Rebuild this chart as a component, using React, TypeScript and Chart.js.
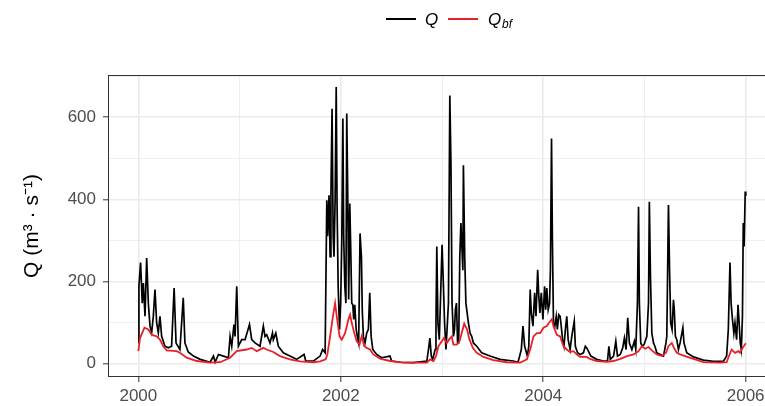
import React, { useEffect, useRef } from 'react';
import { Chart, registerables } from 'chart.js';

Chart.register(...registerables);

// ---- data (days since 2000-01-01) ----
const START_YEAR = 2000;

const qDays = [
  0, 2, 8, 14, 18, 24, 30, 36, 42, 48, 54, 60, 66, 72, 78, 84, 96, 108, 120, 129, 136, 150, 162, 168, 180,
  199, 223, 259, 271, 277, 289, 307, 325, 331, 337, 345, 349, 355, 361, 373, 385, 401, 409, 421, 439, 451,
  457, 463, 475, 484, 487, 496, 505, 523, 547, 571, 598, 604, 632, 656, 665, 674,
  680, 683, 688, 692, 695, 699, 703, 706, 710, 714, 717, 721, 726, 730, 734, 738, 741, 745, 749, 752, 756,
  759, 763, 766, 770, 774, 777, 781, 786, 790, 795, 800, 805, 808, 812, 818, 824, 830, 835, 840, 846, 860,
  878, 908, 914, 944, 993, 1041, 1047, 1052, 1057, 1062, 1071, 1074, 1077, 1081, 1086, 1090, 1096, 1101,
  1105, 1110, 1114, 1119, 1124, 1128, 1132, 1137, 1141, 1144, 1148, 1152, 1156, 1160, 1164, 1167, 1171,
  1173, 1178, 1182, 1185, 1191, 1197, 1203, 1209, 1221, 1239, 1269, 1305, 1353, 1370, 1376, 1382, 1388,
  1394, 1404, 1409, 1414, 1418, 1424, 1430, 1435, 1441, 1445, 1449, 1454, 1460, 1466, 1470, 1474, 1479,
  1484, 1487, 1491, 1494, 1498, 1503, 1508, 1512, 1517, 1522, 1526, 1531, 1536, 1541, 1546, 1551, 1558,
  1564, 1573, 1577, 1585, 1594, 1606, 1613, 1618, 1624, 1633, 1654, 1678, 1693, 1698, 1703, 1715, 1723,
  1729, 1739, 1748, 1754, 1760, 1766, 1772, 1781, 1790, 1795, 1801, 1805, 1808, 1813, 1818, 1825, 1835,
  1841, 1844, 1848, 1853, 1859, 1864, 1871, 1883, 1895, 1904, 1907, 1913, 1917, 1921, 1926, 1931, 1934,
  1938, 1943, 1949, 1955, 1965, 1969, 1979, 2003, 2039, 2075, 2111, 2123, 2129, 2135, 2139, 2144, 2149,
  2153, 2159, 2164, 2168, 2172, 2176, 2180, 2183, 2186, 2190, 2192,
];

const qValues = [
  50, 188, 246, 147, 196, 115, 257, 147, 91, 75, 115, 180, 99, 75, 115, 66, 42, 38, 42, 184, 50, 34, 160, 50, 28,
  18, 10, 3, 18, 3, 22, 18, 14, 66, 42, 95, 66, 188, 42, 58, 58, 95, 58, 50, 42, 91,
  66, 70, 50, 74, 58, 74, 42, 26, 18, 10, 22, 6, 6, 18, 34, 26,
  398, 310, 410, 260, 415, 621, 310, 260, 398, 674, 390, 188, 83, 147, 293, 597, 310, 188, 147, 609, 390,
  156, 390, 293, 147, 143, 107, 143, 83, 66, 50, 317, 260, 131, 66, 50, 74, 83, 172, 66, 34, 22,
  14, 18, 6, 3, 2, 6, 34, 62, 18, 10, 34, 99, 285, 99, 58, 147, 289, 188,
  99, 34, 83, 147, 653, 487, 147, 66, 83, 131, 147, 50, 50, 261, 342, 293, 227,
  483, 253, 147, 131, 99, 74, 66, 50, 42, 26, 18, 10, 6, 3, 18, 34, 91,
  42, 18, 42, 180, 123, 91, 172, 115, 228, 164, 123, 172, 107, 188, 131, 184, 131,
  147, 228, 548, 310, 99, 91, 115, 83, 119, 115, 91, 58, 42, 83, 115, 58, 34,
  66, 103, 42, 26, 22, 26, 42, 38, 30, 18, 10, 6, 6, 42, 10, 18, 54,
  18, 22, 38, 62, 34, 111, 50, 34, 54, 34, 147, 382, 147, 50, 42, 46, 66,
  147, 394, 212, 74, 50, 42, 26, 22, 18, 50, 66, 386, 228, 99, 83, 155, 131,
  66, 58, 34, 50, 87, 50, 26, 16, 8, 5, 5, 18, 83, 246, 147, 107, 74,
  99, 58, 143, 99, 50, 34, 115, 342, 285, 419, 408,
];

const bfDays = [
  0, 6, 22, 36, 48, 66, 78, 90, 102, 138, 150, 174, 211, 259, 295, 331, 355, 391, 409, 427, 451, 463, 487,
  511, 547, 583, 632, 656, 676, 682, 692, 702, 710, 716, 726, 734, 746, 758, 764, 770, 779, 788, 798, 806,
  815, 824, 836, 848, 872, 908, 957, 1041, 1053, 1065, 1074, 1083, 1095, 1103, 1113, 1121, 1131, 1137,
  1149, 1159, 1167, 1176, 1186, 1195, 1207, 1221, 1245, 1281, 1329, 1378, 1390, 1402, 1414, 1426, 1438,
  1450, 1462, 1474, 1486, 1492, 1498, 1510, 1522, 1534, 1546, 1558, 1570, 1582, 1594, 1618, 1630, 1654,
  1691, 1715, 1739, 1763, 1787, 1805, 1817, 1829, 1841, 1853, 1871, 1889, 1904, 1913, 1925, 1933, 1943,
  1955, 1973, 2003, 2039, 2099, 2123, 2129, 2141, 2153, 2165, 2171, 2181, 2192,
];

const bfValues = [
  30, 62, 87, 83, 70, 66, 58, 42, 32, 30, 26, 14, 6, 2, 3, 14, 30, 34, 38, 30, 38, 34, 28,
  18, 10, 5, 3, 5, 10, 22, 66, 115, 147, 115, 66, 58, 74, 107, 119, 99, 74, 54, 46, 66,
  42, 38, 34, 22, 12, 6, 2, 2, 10, 6, 18, 42, 54, 62, 50, 58, 66, 46,
  46, 54, 74, 97, 83, 58, 38, 26, 16, 8, 3, 2, 6, 10, 34, 66, 74,
  74, 87, 91, 103, 108, 91, 70, 66, 42, 34, 28, 30, 22, 16, 16, 11, 6,
  4, 6, 11, 18, 22, 30, 42, 36, 40, 32, 22, 18, 26, 42, 50, 38, 26,
  22, 18, 11, 3, 2, 3, 14, 34, 26, 30, 26, 38, 49,
];

const xMajorYears = [2000, 2002, 2004, 2006];
const yMajorValues = [0, 200, 400, 600];

const FONT = '"Liberation Sans", Arial, Helvetica, sans-serif';

const toYear = (d: number) => START_YEAR + d / 365.25;

const framePlugin = {
  id: 'frameAndLegend',
  afterDraw(chart: any) {
    const { ctx, chartArea: a } = chart;
    ctx.save();
    // panel border
    ctx.strokeStyle = '#333333';
    ctx.lineWidth = 1;
    ctx.strokeRect(Math.round(a.left) + 0.5, Math.round(a.top) + 0.5, Math.round(a.right - a.left), Math.round(a.bottom - a.top) - 1);
    // legend
    const y = 19;
    ctx.lineWidth = 2;
    ctx.strokeStyle = '#000000';
    ctx.beginPath();
    ctx.moveTo(386, y);
    ctx.lineTo(416, y);
    ctx.stroke();
    ctx.strokeStyle = '#E8202A';
    ctx.beginPath();
    ctx.moveTo(448, y);
    ctx.lineTo(478, y);
    ctx.stroke();
    ctx.fillStyle = '#000000';
    ctx.textBaseline = 'middle';
    ctx.textAlign = 'left';
    ctx.font = `italic 17px ${FONT}`;
    ctx.fillText('Q', 425, y + 1);
    ctx.fillText('Q', 488, y + 1);
    ctx.font = `italic 12px ${FONT}`;
    ctx.fillText('bf', 502, y + 6);
    ctx.restore();
  },
};

export default function App() {
  const ref = useRef<HTMLCanvasElement | null>(null);

  useEffect(() => {
    document.body.style.overflow = 'hidden';
    const canvas = ref.current;
    if (!canvas) return;
    const qData = qDays.map((d, i) => ({ x: toYear(d), y: qValues[i] }));
    const bfData = bfDays.map((d, i) => ({ x: toYear(d), y: bfValues[i] }));

    const chart = new Chart(canvas, {
      type: 'line',
      data: {
        datasets: [
          {
            label: 'Q',
            data: qData,
            borderColor: '#000000',
            borderWidth: 1.7,
            pointRadius: 0,
            tension: 0,
            order: 2,
          },
          {
            label: 'Qbf',
            data: bfData,
            borderColor: '#E8202A',
            borderWidth: 1.8,
            pointRadius: 0,
            tension: 0,
            order: 1,
          },
        ],
      },
      options: {
        responsive: false,
        animation: false,
        devicePixelRatio: 1,
        layout: { padding: { top: 75, right: 14, left: 0, bottom: 0 } },
        plugins: { legend: { display: false }, tooltip: { enabled: false } },
        scales: {
          x: {
            type: 'linear',
            min: 1999.7,
            max: 2006.3,
            afterFit: (s: any) => {
              s.height = 29;
            },
            border: { display: false },
            grid: {
              color: '#EBEBEB',
              lineWidth: (c: any) => (xMajorYears.includes(Math.round(c.tick?.value)) ? 1.6 : 0.8),
              tickColor: (c: any) => (xMajorYears.includes(Math.round(c.tick?.value)) ? '#333333' : 'rgba(0,0,0,0)'),
              tickLength: 5,
              tickWidth: 1,
            },
            ticks: {
              stepSize: 1,
              includeBounds: false,
              autoSkip: false,
              maxRotation: 0,
              padding: 4,
              color: '#4D4D4D',
              font: { family: FONT, size: 17 },
              callback: (v: any) => (xMajorYears.includes(Math.round(Number(v))) ? String(Math.round(Number(v))) : ''),
            },
          },
          y: {
            type: 'linear',
            min: -33,
            max: 703,
            afterFit: (s: any) => {
              s.width = 108;
            },
            border: { display: false },
            grid: {
              color: '#EBEBEB',
              lineWidth: (c: any) => (yMajorValues.includes(Math.round(c.tick?.value)) ? 1.6 : 0.8),
              tickColor: (c: any) => (yMajorValues.includes(Math.round(c.tick?.value)) ? '#333333' : 'rgba(0,0,0,0)'),
              tickLength: 5,
              tickWidth: 1,
            },
            ticks: {
              stepSize: 100,
              includeBounds: false,
              autoSkip: false,
              padding: 7,
              color: '#4D4D4D',
              font: { family: FONT, size: 17 },
              callback: (v: any) => (yMajorValues.includes(Math.round(Number(v))) ? String(Math.round(Number(v))) : ''),
            },
            title: {
              display: true,
              text: 'Q (m³ · s⁻¹)',
              color: '#000000',
              font: { family: FONT, size: 21 },
              padding: { top: 20, bottom: 0 },
            },
          },
        },
      },
      plugins: [framePlugin],
    } as any);

    return () => {
      chart.destroy();
    };
  }, []);

  return (
    <div style={{ position: 'absolute', left: 0, top: 0, width: 790, height: 406, overflow: 'hidden', background: '#ffffff' }}>
      <canvas ref={ref} width={790} height={406} style={{ display: 'block' }} />
    </div>
  );
}
